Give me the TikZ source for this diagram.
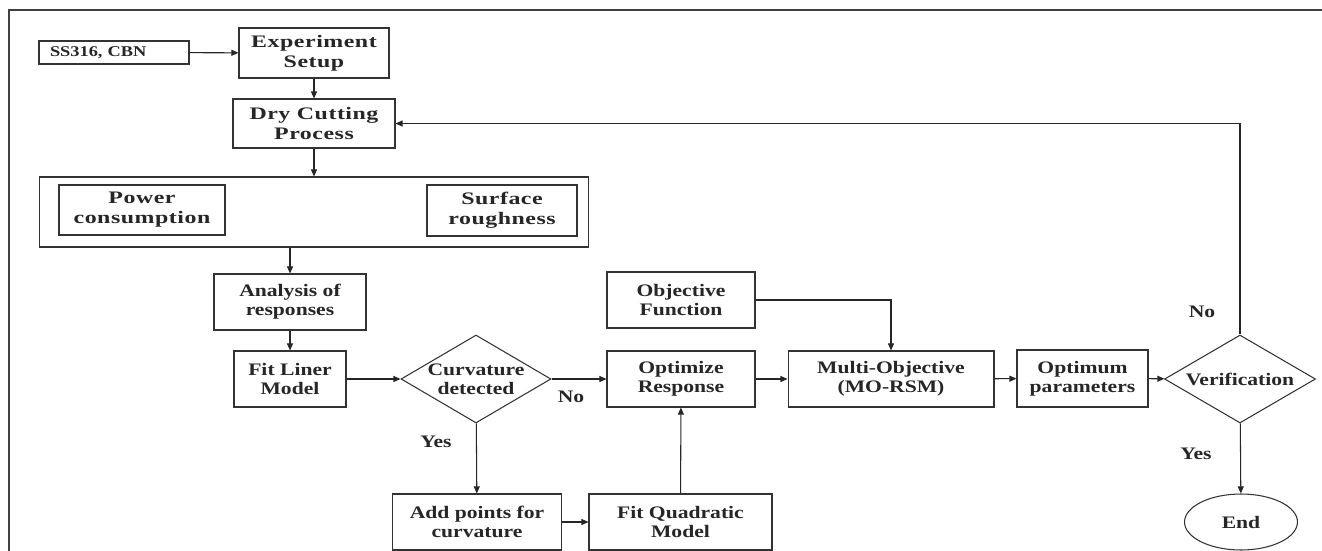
\documentclass[tikz,border=0pt]{standalone}
\usepackage{fontspec}
\setmainfont{Liberation Serif}[FakeStretch=1.23]
\newfontfamily\widefont{Liberation Serif}[FakeStretch=1.36,LetterSpace=3]
\usetikzlibrary{shapes.geometric,arrows.meta}

\tikzset{
  block/.style={draw=black!80, line width=0.6pt, align=center, inner sep=2pt,
    text=black!85, font=\fontsize{10}{11}\selectfont\bfseries},
  topblock/.style={block, font=\widefont\fontsize{10}{11.5}\selectfont\bfseries},
  decision/.style={block, shape=diamond, inner xsep=-10pt, inner ysep=-3pt,
    minimum width=3cm, minimum height=1.76cm},
  terminal/.style={block, shape=ellipse, inner sep=0pt,
    minimum width=2.26cm, minimum height=1.12cm},
  flow/.style={->, draw=black!85, line width=0.6pt},
  tag/.style={text=black!85, font=\fontsize{10}{11}\selectfont\bfseries}
}

\begin{document}
\begin{tikzpicture}[x=0.02cm, y=-0.02cm, >={Triangle[length=4pt,width=3.4pt]}]
    \useasboundingbox (0,0) rectangle (1322,551);
    % Frame
    \draw[black!75, line width=1pt] (9,551) -- (9,10) -- (1322,10);
    % Set-up and cutting
    \node[block, font=\fontsize{8.5}{10}\selectfont\bfseries, text width=2.56cm,
      align=left, inner xsep=0.22cm, minimum height=0.46cm] (ss) at (114,52.5) {SS316, CBN};
    \node[topblock, minimum width=3cm, minimum height=1cm] (exp) at (314,53) {Experiment\\Setup};
    \node[topblock, minimum width=3.24cm, minimum height=0.98cm] (dry) at (314,123.5) {Dry Cutting\\Process};
    % Responses
    \node[block, minimum width=11cm, minimum height=1.4cm] (resp) at (314,212) {};
    \node[topblock, minimum width=3.32cm, minimum height=1cm] (power) at (142,210) {Power\\consumption};
    \node[topblock, minimum width=3cm, minimum height=1.02cm] (rough) at (502,210.5) {Surface\\roughness};
    % Modelling
    \node[block, minimum width=3.04cm, minimum height=1.12cm] (anal) at (290,302) {Analysis of\\responses};
    \node[block, minimum width=2.24cm, minimum height=1.12cm] (lin) at (290,379) {Fit Liner\\Model};
    \node[decision] (curv) at (476,379) {Curvature\\detected};
    \node[block, minimum width=3.38cm, minimum height=1.12cm] (add) at (477,522) {Add points for\\curvature};
    \node[block, minimum width=3.66cm, minimum height=1.12cm] (quad) at (680.5,522) {Fit Quadratic\\Model};
    % Optimisation
    \node[block, minimum width=2.96cm, minimum height=1.12cm] (obj) at (681,300) {Objective\\Function};
    \node[block, minimum width=2.96cm, minimum height=1.12cm] (opt) at (681,379) {Optimize\\Response};
    \node[block, minimum width=4.12cm, minimum height=1.12cm] (multi) at (891,379) {Multi-Objective\\(MO-RSM)};
    \node[block, minimum width=2.62cm, minimum height=1.14cm] (optp) at (1082.5,378.5) {Optimum\\parameters};
    \node[decision, minimum width=3.02cm] (ver) at (1240,379) {Verification};
    \node[terminal] (end) at (1241,522) {End};
    % Labels
    \node[tag] (no1) at (571,397) {No};
    \node[tag] (yes1) at (436,442) {Yes};
    \node[tag] (no2) at (1202,312) {No};
    \node[tag] (yes2) at (1196,454) {Yes};
    % Connectors
    \draw[flow] (ss) -- (exp);
    \draw[flow] (exp) -- (dry);
    \draw[flow] (dry) -- (resp);
    \draw[flow] (anal.north |- resp.south) -- (anal);
    \draw[flow] (anal) -- (lin);
    \draw[flow] (lin) -- (curv);
    \draw[flow] (curv) -- (opt);
    \draw[flow] (curv) -- (add);
    \draw[flow] (add) -- (quad);
    \draw[flow] (quad) -- (opt);
    \draw[flow] (obj.east) -| (multi.north);
    \draw[flow] (opt) -- (multi);
    \draw[flow] (multi) -- (optp);
    \draw[flow] (optp) -- (ver);
    \draw[flow] (ver) -- (end);
    \draw[flow] (ver.north) |- (dry.east);
\end{tikzpicture}
\end{document}
